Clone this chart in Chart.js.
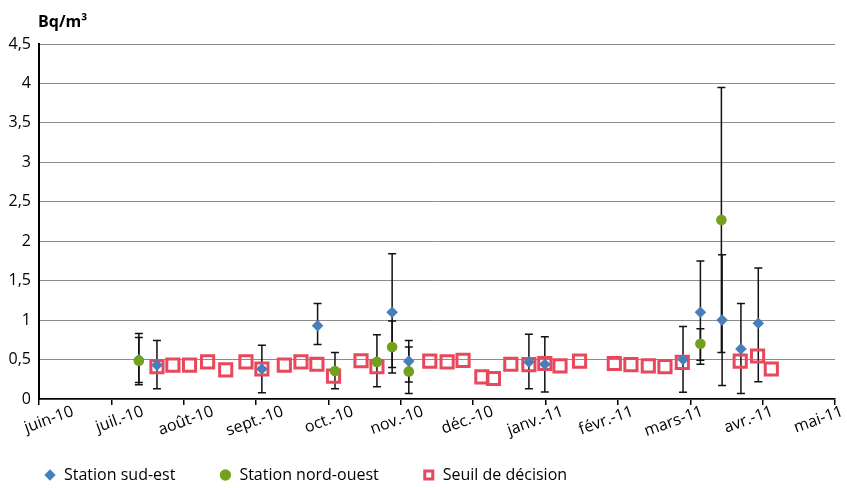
<!DOCTYPE html>
<html>
<head>
<meta charset="utf-8">
<script src="https://cdn.jsdelivr.net/npm/chart.js@4/dist/chart.umd.min.js"></script>
<style>
  html, body { margin: 0; padding: 0; background: #fff; }
</style>
</head>
<body>
<canvas id="radonChart" width="847" height="488"></canvas>
<script>
// month axis: 0 = juin-10 ... 11 = mai-11, positions are fractions of a month
const monthLabels = ['juin-10', 'juil.-10', 'août-10', 'sept.-10', 'oct.-10', 'nov.-10', 'déc.-10',
                     'janv.-11', 'févr.-11', 'mars-11', 'avr.-11', 'mai-11'];
const yTicks = [0, 0.5, 1, 1.5, 2, 2.5, 3, 3.5, 4, 4.5];

const sudEstPos  = [1.38, 1.63, 3.08, 3.85, 4.88, 5.11, 6.77, 6.99, 8.90, 9.14, 9.44, 9.70, 9.94];
const sudEstVal  = [0.50, 0.43, 0.38, 0.93, 1.10, 0.48, 0.47, 0.44, 0.50, 1.10, 1.00, 0.635, 0.96];
const sudEstLow  = [0.21, 0.13, 0.08, 0.69, 0.33, 0.215, 0.13, 0.09, 0.085, 0.49, 0.17, 0.07, 0.22];
const sudEstHigh = [0.83, 0.74, 0.68, 1.21, 1.84, 0.74, 0.82, 0.79, 0.92, 1.75, 1.83, 1.21, 1.66];

const nordOuestPos  = [1.38, 4.09, 4.67, 4.88, 5.11, 9.14, 9.43];
const nordOuestVal  = [0.485, 0.355, 0.47, 0.66, 0.35, 0.70, 2.27];
const nordOuestLow  = [0.18, 0.13, 0.155, 0.40, 0.07, 0.44, 0.59];
const nordOuestHigh = [0.78, 0.59, 0.815, 0.99, 0.66, 0.89, 3.95];

const seuilPos = [1.63, 1.85, 2.08, 2.33, 2.58, 2.86, 3.08, 3.39, 3.62, 3.84, 4.07, 4.45, 4.67,
                  5.40, 5.64, 5.86, 6.12, 6.28, 6.52, 6.77, 6.99, 7.20, 7.47, 7.95, 8.18, 8.42,
                  8.65, 8.89, 9.69, 9.93, 10.12];
const seuilVal = [0.41, 0.43, 0.43, 0.47, 0.37, 0.47, 0.38, 0.43, 0.47, 0.44, 0.29, 0.485, 0.41,
                  0.48, 0.47, 0.49, 0.28, 0.26, 0.44, 0.435, 0.45, 0.42, 0.48, 0.45, 0.435, 0.42,
                  0.41, 0.465, 0.48, 0.545, 0.38];

function toPoints(xs, ys) {
    return xs.map((x, i) => ({ x: x, y: ys[i] }));
}

// whiskers drawn under the markers, through the library scales
const errorBars = {
    id: 'errorBars',
    beforeDatasetsDraw(chart) {
        const ctx = chart.ctx;
        const xs = chart.scales.x, ys = chart.scales.y;
        ctx.save();
        ctx.strokeStyle = '#111';
        ctx.lineWidth = 1.5;
        chart.data.datasets.forEach(ds => {
            if (!ds.errLow) return;
            ds.data.forEach((pt, i) => {
                const px = xs.getPixelForValue(pt.x);
                const top = ys.getPixelForValue(ds.errHigh[i]);
                const bot = ys.getPixelForValue(ds.errLow[i]);
                ctx.beginPath();
                ctx.moveTo(px, top); ctx.lineTo(px, bot);
                ctx.moveTo(px - 4, top); ctx.lineTo(px + 4, top);
                ctx.moveTo(px - 4, bot); ctx.lineTo(px + 4, bot);
                ctx.stroke();
            });
        });
        ctx.restore();
    }
};

const unitTitle = {
    id: 'unitTitle',
    afterDraw(chart) {
        const ctx = chart.ctx;
        ctx.save();
        ctx.font = "bold 16px 'Open Sans', sans-serif";
        ctx.fillStyle = '#000';
        ctx.textBaseline = 'middle';
        ctx.fillText('Bq/m³', chart.chartArea.left - 1, 22);
        ctx.restore();
    }
};

Chart.defaults.font.family = "'Open Sans', sans-serif";
Chart.defaults.color = '#000';

const ctx = document.getElementById('radonChart').getContext('2d');
const radonChart = new Chart(ctx, {
    type: 'scatter',
    data: {
        datasets: [{
            label: 'Station sud-est',
            data: toPoints(sudEstPos, sudEstVal),
            errLow: sudEstLow,
            errHigh: sudEstHigh,
            pointStyle: 'rectRot',
            pointRadius: 5.8,
            backgroundColor: '#4a7ebb',
            borderColor: '#4a7ebb',
            borderWidth: 0,
            order: 2
        },
        {
            label: 'Station nord-ouest',
            data: toPoints(nordOuestPos, nordOuestVal),
            errLow: nordOuestLow,
            errHigh: nordOuestHigh,
            pointStyle: 'circle',
            pointRadius: 5.3,
            backgroundColor: '#74a01f',
            borderColor: '#74a01f',
            borderWidth: 0,
            order: 1
        },
        {
            label: 'Seuil de décision',
            data: toPoints(seuilPos, seuilVal),
            pointStyle: 'rect',
            pointRadius: 8.6,
            backgroundColor: 'rgba(255,255,255,0)',
            borderColor: '#e8485c',
            borderWidth: 3,
            order: 3
        }]
    },
    options: {
        responsive: false,
        animation: false,
        layout: { padding: { top: 44, right: 12, left: 0, bottom: 0 } },
        plugins: {
            tooltip: { enabled: false },
            legend: {
                position: 'bottom',
                align: 'start',
                maxHeight: 65,
                labels: {
                    usePointStyle: true,
                    boxWidth: 12,
                    boxHeight: 8,
                    padding: 44,
                    color: '#000',
                    font: { size: 16 },
                    sort: (a, b) => a.datasetIndex - b.datasetIndex
                }
            }
        },
        scales: {
            x: {
                type: 'linear',
                min: 0,
                max: 11,
                weight: 0,
                ticks: { stepSize: 1, display: false },
                grid: { drawOnChartArea: false, drawTicks: true, tickLength: 6, color: '#000', lineWidth: 1.5 },
                border: { color: '#000', width: 1.5 },
                afterFit(scale) { scale.height = 6; scale.paddingLeft = 0; scale.paddingRight = 0; }
            },
            xl: {
                type: 'linear',
                axis: 'x',
                position: 'bottom',
                min: 0,
                max: 11.378,
                weight: 1,
                grid: { display: false, drawTicks: false },
                border: { display: false },
                ticks: {
                    stepSize: 1,
                    includeBounds: false,
                    autoSkip: false,
                    minRotation: 20,
                    maxRotation: 20,
                    labelOffset: 34,
                    padding: -3,
                    font: { size: 16 },
                    color: '#000',
                    callback: v => monthLabels[v]
                },
                afterFit(scale) {
                    scale.height = 18;
                    scale.paddingLeft = 0;
                    scale.paddingRight = 0;
                    // rotated labels hang below this thin box, do not clip them
                    scale._computeLabelArea = () => undefined;
                }
            },
            y: {
                min: 0,
                max: 4.5,
                afterBuildTicks(scale) { scale.ticks = yTicks.map(v => ({ value: v })); },
                ticks: {
                    padding: 8,
                    font: { size: 16 },
                    color: '#000',
                    callback: v => String(v).replace('.', ',')
                },
                grid: { color: '#8c8c8c', lineWidth: 1, drawTicks: false },
                border: { color: '#000', width: 2 },
                afterFit(scale) { scale.width = 39; }
            }
        }
    },
    plugins: [errorBars, unitTitle]
});
</script>
</body>
</html>
